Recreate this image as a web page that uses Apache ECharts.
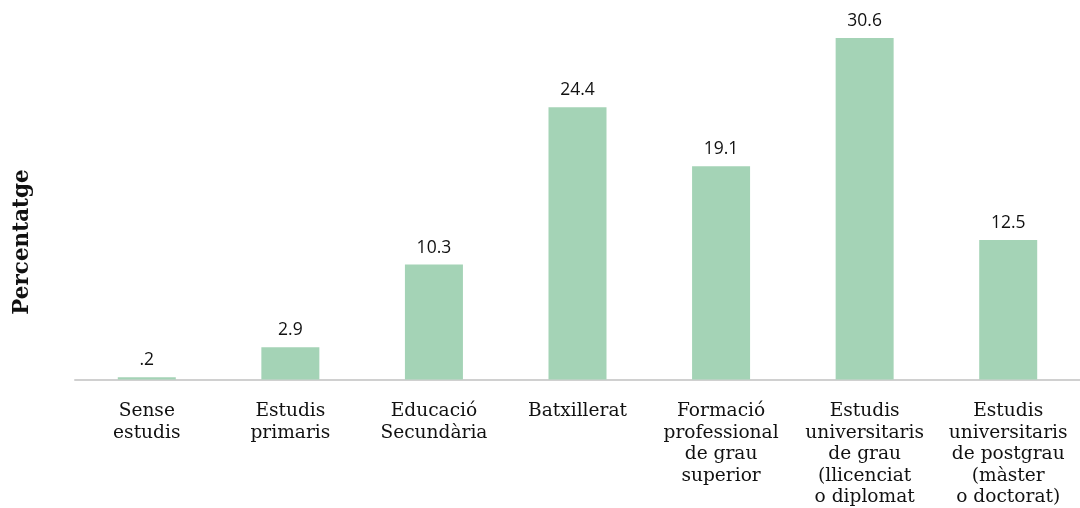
<!DOCTYPE html>
<html>
<head>
<meta charset="utf-8">
<title>Nivell d'estudis</title>
<script src="https://cdn.jsdelivr.net/npm/echarts@6/dist/echarts.min.js"></script>
<style>
  html, body { margin: 0; padding: 0; background: #ffffff; }
  #chart { width: 1080px; height: 508px; }
</style>
</head>
<body>
<div id="chart"></div>
<script>
// Education level categories (line breaks as printed under the axis)
const categories = [
  'Sense\nestudis',
  'Estudis\nprimaris',
  'Educació\nSecundària',
  'Batxillerat',
  'Formació\nprofessional\nde grau\nsuperior',
  'Estudis\nuniversitaris\nde grau\n(llicenciat\no diplomat',
  'Estudis\nuniversitaris\nde postgrau\n(màster\no doctorat)'
];

// Share of respondents in each category (%)
const percentages = [0.2, 2.9, 10.3, 24.4, 19.1, 30.6, 12.5];

const axisTitle = 'Percentatge';

// Values are printed without the leading zero (".2")
function formatValue(v) {
  const s = v.toFixed(1);
  return s.startsWith('0.') ? s.slice(1) : s;
}

const chart = echarts.init(document.getElementById('chart'), null, { renderer: 'canvas' });

chart.setOption({
  animation: false,
  backgroundColor: '#ffffff',
  grid: { left: 75, right: 0, top: 0, bottom: 128, containLabel: false },
  xAxis: {
    type: 'category',
    data: categories,
    axisLine: { show: true, lineStyle: { color: '#d0d0d0', width: 2 } },
    axisTick: { show: false },
    axisLabel: {
      interval: 0,
      margin: 21,
      color: '#111111',
      fontFamily: 'DejaVu Serif',
      fontSize: 18.6,
      lineHeight: 21.5,
      align: 'center'
    }
  },
  yAxis: {
    type: 'value',
    min: 0,
    max: 34,
    show: false,
    splitLine: { show: false }
  },
  graphic: [{
    type: 'text',
    x: 22,
    y: 242,
    rotation: Math.PI / 2,
    style: {
      text: axisTitle,
      fill: '#111111',
      font: 'bold 21.5px "DejaVu Serif"',
      align: 'center',
      verticalAlign: 'middle'
    }
  }],
  series: [{
    type: 'bar',
    data: percentages,
    barWidth: 58,
    itemStyle: { color: '#a4d3b6' },
    label: {
      show: true,
      position: 'top',
      distance: 8,
      color: '#111111',
      fontFamily: 'Open Sans',
      fontSize: 17.5,
      formatter: p => formatValue(p.value)
    }
  }]
});
</script>
</body>
</html>
